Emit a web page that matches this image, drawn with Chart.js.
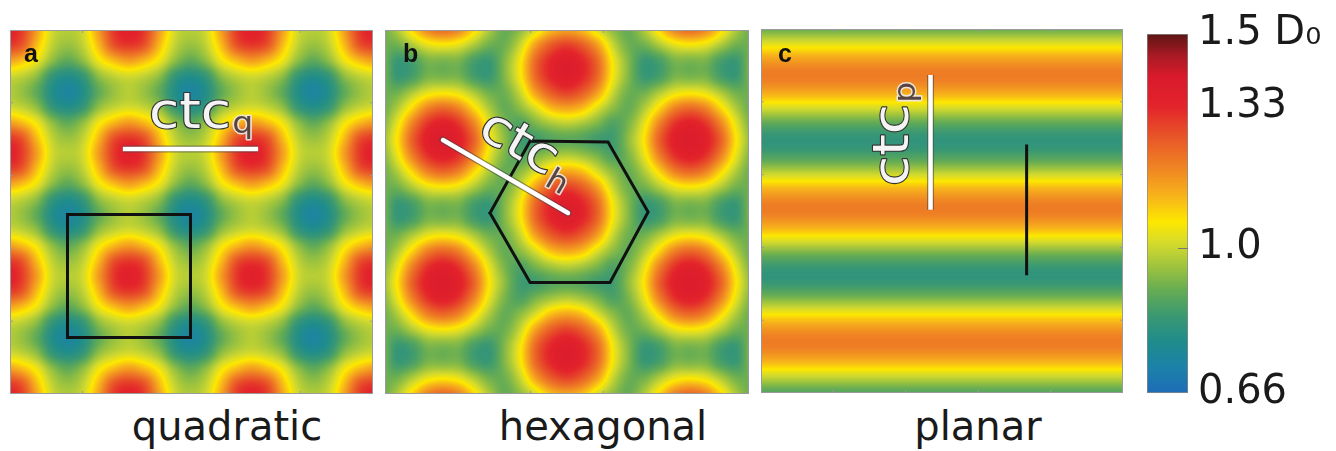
<!DOCTYPE html>
<html>
<head>
<meta charset="utf-8">
<script src="https://cdn.jsdelivr.net/npm/chart.js@4.4.1/dist/chart.umd.min.js"></script>
<style>
  body { margin: 0; background: #fff; width: 1336px; height: 451px; overflow: hidden; position: relative; font-family: "DejaVu Sans", sans-serif; }
  canvas { position: absolute; }
  .lbl { position: absolute; top: 402px; width: 300px; text-align: center; font-size: 40px; line-height: 48px; color: #1a1a1a; }
</style>
</head>
<body>
<canvas id="pa" width="363" height="364" style="left:10px;top:30px"></canvas>
<canvas id="pb" width="364" height="364" style="left:385px;top:30px"></canvas>
<canvas id="pc" width="362" height="364" style="left:761px;top:29px"></canvas>
<canvas id="cb" width="189" height="451" style="left:1147px;top:0px"></canvas>
<div class="lbl" style="left:77px">quadratic</div>
<div class="lbl" style="left:453px">hexagonal</div>
<div class="lbl" style="left:828px">planar</div>
<script>
// colour scale D/D0
const colorTicks = [0.66, 1.0, 1.33, 1.5];
const colorTickLabels = ['0.66', '1.0', '1.33', '1.5 D₀'];
const colorStops = [
  [0.66, '#1e6cb8'], [0.72, '#1c81a8'], [0.78, '#1f8c8c'], [0.84, '#3a9872'],
  [0.90, '#65ac54'], [0.96, '#a2c53c'], [1.01, '#d4da2c'], [1.06, '#fde800'],
  [1.12, '#f7b41a'], [1.19, '#ef8224'], [1.26, '#e85528'], [1.33, '#e3242b'],
  [1.40, '#d91a2c'], [1.45, '#a81a24'], [1.50, '#5c1515']
];

// a: quadratic, values read over one quarter of the unit cell (red spot -> blue spot)
const quadRow0 = [1.35, 1.30, 1.15, 1.01, 0.98];
const quadRow1 = [1.30, 1.26, 1.11, 0.99, 0.95];
const quadRow2 = [1.15, 1.11, 1.04, 0.94, 0.89];
const quadRow3 = [1.01, 0.99, 0.94, 0.83, 0.79];
const quadRow4 = [0.98, 0.95, 0.89, 0.79, 0.74];
const quadOrder = [0,1,2,3,4,3,2,1,0,1,2,3,4,3,2,1,0,1,2,3,4,3,2,1,0];

// b: hexagonal, half cell between two columns of spots
const hexRow0 = [1.38, 1.35, 1.24, 1.06, 0.94, 0.85, 0.85, 0.88, 0.89];
const hexRow1 = [1.35, 1.31, 1.19, 1.03, 0.92, 0.87, 0.92, 0.96, 0.98];
const hexRow2 = [1.23, 1.19, 1.08, 0.97, 0.90, 0.94, 1.02, 1.11, 1.14];
const hexRow3 = [1.05, 1.03, 0.97, 0.91, 0.91, 1.00, 1.15, 1.25, 1.29];
const hexRow4 = [0.92, 0.92, 0.86, 0.84, 0.93, 1.05, 1.23, 1.33, 1.37];
const hexColOrder = [4,3,2,1,0,1,2,3,4,5,6,7,8,7,6,5,4,3,2,1,0,1,2,3,4];
const hexRowOrder = [2,3,4,4,3,2,1,0,1,2,3,4,4,3,2,1,0,1,2,3,4,4,3,2,1];

// c: planar, profile down the panel
const planarProfile = [0.88,1.01,1.14,1.20,1.14,1.01,0.88,0.82,0.88,1.01,1.14,1.20,1.14,1.01,0.88,0.82,0.88,1.01,1.14,1.20,1.14,1.01,0.88,0.82];

// marks, in ctc units
const quadCtcLine = [{x: 0.95, y: 0.967}, {x: 2.05, y: 0.967}];
const quadCell = [{x: 0.5, y: 1.5}, {x: 1.5, y: 1.5}, {x: 1.5, y: 2.5}, {x: 0.5, y: 2.5}, {x: 0.5, y: 1.5}];
const hexCtcLine = [{x: 0, y: 0}, {x: 0.877, y: 0.512}];
const hexCell = [{x: 0.33, y: 0.512}, {x: 0.611, y: 0.007}, {x: 1.158, y: 0.014}, {x: 1.439, y: 0.505}, {x: 1.172, y: 1.0}, {x: 0.611, y: 1.0}, {x: 0.33, y: 0.512}];
const planarCtcLine = [{x: 1.27, y: 0}, {x: 1.27, y: 1.01}];
const planarCell = [{x: 1.99, y: 0.52}, {x: 1.99, y: 1.5}];

const quadRows = [quadRow0, quadRow1, quadRow2, quadRow3, quadRow4];
const hexRows = [hexRow0, hexRow1, hexRow2, hexRow3, hexRow4];
const quadGrid = quadOrder.map(r => quadOrder.map(c => quadRows[r][c]));
const hexGrid = hexRowOrder.map(r => hexColOrder.map(c => hexRows[r][c]));
const planarGrid = planarProfile.map(v => [v, v]);

// colour lookup
const LUT = [];
(function () {
  const rgb = h => [1, 3, 5].map(i => parseInt(h.substr(i, 2), 16));
  for (let k = 0; k < 512; k++) {
    const v = 0.66 + k / 511 * 0.84;
    let i = 0;
    while (i < colorStops.length - 2 && v > colorStops[i + 1][0]) i++;
    const [v0, c0] = colorStops[i], [v1, c1] = colorStops[i + 1];
    const t = Math.min(1, Math.max(0, (v - v0) / (v1 - v0)));
    const a = rgb(c0), b = rgb(c1);
    LUT.push(a.map((q, j) => Math.round(q + (b[j] - q) * t)));
  }
})();
function colorFor(v) {
  const k = Math.round((v - 0.66) / 0.84 * 511);
  return LUT[Math.min(511, Math.max(0, k))];
}

function crWeights(t) {
  const t2 = t * t, t3 = t2 * t;
  return [(-t3 + 2 * t2 - t) / 2, (3 * t3 - 5 * t2 + 2) / 2, (-3 * t3 + 4 * t2 + t) / 2, (t3 - t2) / 2];
}
function sampleGrid(g, gx, gy) {
  const rows = g.length, cols = g[0].length;
  const ix = Math.floor(gx), iy = Math.floor(gy);
  const wx = crWeights(gx - ix), wy = crWeights(gy - iy);
  let v = 0;
  for (let n = 0; n < 4; n++) {
    const r = g[Math.min(rows - 1, Math.max(0, iy - 1 + n))];
    let s = 0;
    for (let m = 0; m < 4; m++) s += wx[m] * r[Math.min(cols - 1, Math.max(0, ix - 1 + m))];
    v += wy[n] * s;
  }
  return v;
}

function drawCtc(chart, lab) {
  const {ctx, scales: {x, y}} = chart;
  ctx.save();
  ctx.translate(x.getPixelForValue(lab.x), y.getPixelForValue(lab.y));
  ctx.rotate(lab.angle * Math.PI / 180);
  ctx.scale(1.1, 1);
  ctx.lineJoin = 'round';
  ctx.font = '50px "DejaVu Sans"';
  ctx.lineWidth = 2.2;
  ctx.strokeStyle = '#333';
  ctx.fillStyle = '#f4f4f4';
  ctx.strokeText('ctc', 0, 0);
  ctx.fillText('ctc', 0, 0);
  const w = ctx.measureText('ctc').width;
  ctx.font = '30px "DejaVu Sans"';
  ctx.lineWidth = 3;
  ctx.strokeStyle = 'rgba(235,235,235,0.9)';
  ctx.strokeText(lab.sub, w + 1, lab.drop);
  ctx.fillStyle = '#5a4440';
  ctx.fillText(lab.sub, w + 1, lab.drop);
  ctx.restore();
}

function heatPlugin(field, letter, ctc) {
  let cache = null;
  return {
    id: 'heat',
    beforeDatasetsDraw(chart) {
      const {ctx, chartArea: a, scales: {x, y}} = chart;
      const w = Math.round(a.right - a.left), h = Math.round(a.bottom - a.top);
      if (!cache) {
        cache = document.createElement('canvas');
        cache.width = w; cache.height = h;
        const c2 = cache.getContext('2d');
        const img = c2.createImageData(w, h);
        const gxs = [];
        for (let px = 0; px < w; px++) gxs.push((x.getValueForPixel(a.left + px + 0.5) - field.x0) / field.dx);
        for (let py = 0; py < h; py++) {
          const gy = (y.getValueForPixel(a.top + py + 0.5) - field.y0) / field.dy;
          for (let px = 0; px < w; px++) {
            const col = colorFor(sampleGrid(field.grid, gxs[px], gy));
            const o = (py * w + px) * 4;
            img.data[o] = col[0]; img.data[o + 1] = col[1]; img.data[o + 2] = col[2]; img.data[o + 3] = 255;
          }
        }
        c2.putImageData(img, 0, 0);
      }
      ctx.drawImage(cache, a.left, a.top);
    },
    afterDatasetsDraw(chart) {
      const {ctx, scales: {x, y}} = chart;
      drawCtc(chart, ctc);
      ctx.save();
      ctx.font = 'bold 25px "Liberation Sans"';
      ctx.fillStyle = '#111';
      ctx.fillText(letter.text, x.getPixelForValue(letter.x), y.getPixelForValue(letter.y));
      ctx.restore();
    },
    afterDraw(chart) {
      const {ctx, chartArea: a} = chart;
      ctx.save();
      ctx.strokeStyle = '#9a9a9a';
      ctx.lineWidth = 1;
      ctx.strokeRect(a.left + 0.5, a.top + 0.5, a.right - a.left - 1, a.bottom - a.top - 1);
      ctx.beginPath();
      for (let k = 1; k < 5; k++) {
        const px = a.left + (a.right - a.left) * k / 5, py = a.top + (a.bottom - a.top) * k / 5;
        ctx.moveTo(px, a.top); ctx.lineTo(px, a.top + 3);
        ctx.moveTo(px, a.bottom); ctx.lineTo(px, a.bottom - 3);
        ctx.moveTo(a.left, py); ctx.lineTo(a.left + 3, py);
        ctx.moveTo(a.right, py); ctx.lineTo(a.right - 3, py);
      }
      ctx.stroke();
      ctx.restore();
    }
  };
}

function lineSet(data, color, width, cap) {
  return {data, showLine: true, borderColor: color, borderWidth: width, pointRadius: 0,
          fill: false, borderCapStyle: cap || 'butt', borderJoinStyle: 'miter', clip: 0};
}

function makePanel(id, field, range, sets, letter, ctc) {
  new Chart(document.getElementById(id), {
    type: 'scatter',
    data: {datasets: sets},
    options: {
      responsive: false,
      animation: false,
      events: [],
      layout: {padding: 0},
      scales: {
        x: {type: 'linear', display: false, min: range[0], max: range[1]},
        y: {type: 'linear', display: false, reverse: true, min: range[2], max: range[3]}
      },
      plugins: {legend: {display: false}, tooltip: {enabled: false}}
    },
    plugins: [heatPlugin(field, letter, ctc)]
  });
}

makePanel('pa', {grid: quadGrid, x0: 0, dx: 0.125, y0: 0, dy: 0.125},
  [0.0325, 2.984, 0, 2.959],
  [lineSet(quadCtcLine, '#ffffff', 4.5), lineSet(quadCtcLine, 'rgba(70,70,70,0.55)', 7),
   lineSet(quadCell, '#111111', 3, 'square')],
  {text: 'a', x: 0.146, y: 0.26},
  {x: 1.163, y: 0.797, angle: 0, sub: 'q', drop: 5});

makePanel('pb', {grid: hexGrid, x0: -0.4333, dx: 0.10833, y0: -0.7778, dy: 0.11111},
  [-0.407, 2.147, -0.772, 1.782],
  [lineSet(hexCtcLine, '#ffffff', 4.5, 'round'), lineSet(hexCtcLine, 'rgba(70,70,70,0.55)', 7, 'round'),
   lineSet(hexCell, '#111111', 3, 'square')],
  {text: 'b', x: -0.281, y: -0.547},
  {x: 0.232, y: -0.032, angle: 30, sub: 'h', drop: 9});

makePanel('pc', {grid: planarGrid, x0: 0, dx: 3, y0: -0.375, dy: 0.125},
  [0, 2.712, -0.345, 2.382],
  [lineSet(planarCtcLine, '#ffffff', 4.5), lineSet(planarCtcLine, 'rgba(70,70,70,0.55)', 7),
   lineSet(planarCell, '#111111', 3)],
  {text: 'c', x: 0.127, y: -0.097},
  {x: 1.101, y: 0.831, angle: -90, sub: 'p', drop: 7});

// colour bar
new Chart(document.getElementById('cb'), {
  type: 'bar',
  data: {
    labels: ['D'],
    datasets: [{
      data: [[0.66, 1.5]],
      barPercentage: 1,
      categoryPercentage: 1,
      borderWidth: 1,
      borderColor: '#8a8a8a',
      borderSkipped: false,
      backgroundColor(context) {
        const chart = context.chart;
        if (!chart.chartArea) return '#ccc';
        const ys = chart.scales.y;
        const g = chart.ctx.createLinearGradient(0, ys.getPixelForValue(0.66), 0, ys.getPixelForValue(1.5));
        colorStops.forEach(([v, c]) => g.addColorStop((v - 0.66) / (1.5 - 0.66), c));
        return g;
      }
    }]
  },
  options: {
    responsive: false,
    animation: false,
    events: [],
    layout: {padding: {top: 29, bottom: 58, left: 0, right: 0}},
    scales: {
      x: {display: false},
      y: {
        position: 'right',
        min: 0.66, max: 1.5,
        grid: {display: false, drawTicks: false},
        border: {display: false},
        afterBuildTicks: s => { s.ticks = colorTicks.map(v => ({value: v})); },
        afterFit: s => { s.width = 148; },
        ticks: {
          autoSkip: false,
          padding: 10,
          color: '#1a1a1a',
          font: {family: 'DejaVu Sans', size: 40},
          callback: (v, i) => colorTickLabels[i]
        }
      }
    },
    plugins: {legend: {display: false}, tooltip: {enabled: false}}
  },
  plugins: [{
    id: 'barTick',
    afterDatasetsDraw(chart) {
      const {ctx, chartArea: a, scales: {y}} = chart;
      const py = Math.round(y.getPixelForValue(1.0)) + 0.5;
      ctx.save();
      ctx.strokeStyle = '#777';
      ctx.lineWidth = 1;
      ctx.beginPath();
      ctx.moveTo(a.right - 10, py); ctx.lineTo(a.right, py);
      ctx.stroke();
      ctx.restore();
    }
  }]
});
</script>
</body>
</html>
